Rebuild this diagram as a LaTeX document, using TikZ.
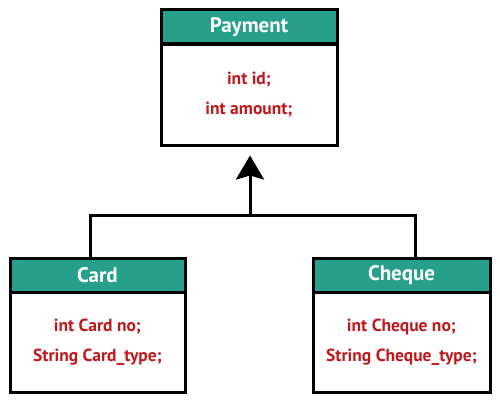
\documentclass[tikz,border=0pt]{standalone}
\usepackage{fontspec}
\setmainfont{PT Sans}
\usetikzlibrary{arrows.meta}
\definecolor{headteal}{RGB}{38,160,138}
\definecolor{fieldred}{RGB}{192,23,27}
\tikzset{
  classhead/.style={draw, line width=3pt, fill=headteal, text=white,
    font=\bfseries\fontsize{21}{24}\selectfont, minimum height=34pt, inner sep=0pt},
  classbody/.style={draw, line width=3pt, fill=white, text=fieldred,
    font=\bfseries\fontsize{17.5}{30}\selectfont, align=center, inner sep=0pt},
  link/.style={draw, line width=3pt},
}
\begin{document}
\begin{tikzpicture}[x=1pt,y=1pt]
        \useasboundingbox (0,0) rectangle (500,400);
        \node[classhead, minimum width=176pt] (payment) at (249,373) {Payment};
        \node[classbody, minimum width=176pt, minimum height=101pt] (paymentbody) at (249,305.5) {int id;\\int amount;};
        \node[classhead, minimum width=175pt] (card) at (97.5,125) {Card};
        \node[classbody, minimum width=175pt, minimum height=100pt] (cardbody) at (97.5,58) {int Card no;\\String Card\_type;};
        \node[classhead, minimum width=177pt] (cheque) at (401.5,125) {Cheque};
        \node[classbody, minimum width=177pt, minimum height=100pt] (chequebody) at (401.5,58) {int Cheque no;\\String Cheque\_type;};
        \coordinate (joint) at (250,185);
        \draw[link] ([xshift=-7.5pt]card.north) |- (joint) -| ([xshift=13.5pt]cheque.north);
        \draw[link, -{Stealth[length=24pt, width=28pt, inset=4pt]}, shorten >=9pt] (joint) -- (paymentbody.south -| joint);
    \end{tikzpicture}
\end{document}
